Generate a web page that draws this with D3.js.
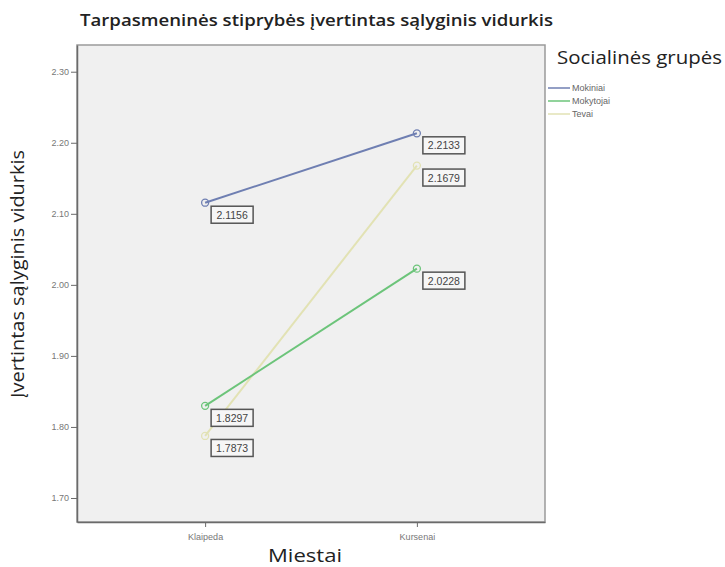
<!DOCTYPE html>
<html>
<head>
<meta charset="utf-8">
<script src="https://cdn.jsdelivr.net/npm/d3@7"></script>
<style>
body{margin:0;background:#fff;}
svg{display:block;}
</style>
</head>
<body>
<svg id="chart" width="725" height="567"></svg>
<script>
const title = "Tarpasmeninės stiprybės įvertintas sąlyginis vidurkis";
const xTitle = "Miestai";
const yTitle = "Įvertintas sąlyginis vidurkis";
const legendTitle = "Socialinės grupės";
const cities = ["Klaipeda", "Kursenai"];
const groups = ["Mokiniai", "Mokytojai", "Tevai"];
const mokiniai = [2.1156, 2.2133];
const mokytojai = [1.8297, 2.0228];
const tevai = [1.7873, 2.1679];
const yTicks = [1.70, 1.80, 1.90, 2.00, 2.10, 2.20, 2.30];
const colors = ["#6f7fb2", "#6cc47a", "#e2e2b4"];

const seriesValues = [mokiniai, mokytojai, tevai];
const series = groups.map((g, i) => ({name: g, color: colors[i],
  values: cities.map((c, j) => ({city: c, value: seriesValues[i][j]}))}));

const svg = d3.select("#chart");
const L = 77, R = 545, T = 45, B = 522;

const x = d3.scalePoint().domain(cities).range([L, R]).padding(0.605);
const y = d3.scaleLinear().domain([1.6662, 2.3376]).range([B, T]);

// plot background
svg.append("rect").attr("x", L).attr("y", T).attr("width", R - L).attr("height", B - T)
  .attr("fill", "#f0f0f0").attr("stroke", "#9a9a9a").attr("stroke-width", 1.5);

// axes
const yAxis = d3.axisLeft(y).tickValues(yTicks).tickFormat(d3.format(".2f")).tickSize(6).tickSizeOuter(0);
const gy = svg.append("g").attr("transform", `translate(${L},0)`).call(yAxis);
gy.select(".domain").attr("stroke", "#6a6a6a").attr("stroke-width", 1.5);
gy.selectAll(".tick line").attr("stroke", "#6a6a6a");
gy.selectAll(".tick text").attr("fill", "#777").attr("font-family", "Arial, 'Liberation Sans', sans-serif").attr("font-size", 9).attr("x", -8);

const xAxis = d3.axisBottom(x).tickSize(5).tickSizeOuter(0);
const gx = svg.append("g").attr("transform", `translate(0,${B})`).call(xAxis);
gx.select(".domain").attr("stroke", "#6a6a6a").attr("stroke-width", 1.5);
gx.selectAll(".tick line").attr("stroke", "#6a6a6a");
gx.selectAll(".tick text").attr("fill", "#777").attr("font-family", "Arial, 'Liberation Sans', sans-serif").attr("font-size", 9).attr("dy", "1.1em");

// lines
const line = d3.line().x(d => x(d.city)).y(d => y(d.value));
series.slice().reverse().forEach(s => {
  svg.append("path").datum(s.values).attr("d", line).attr("fill", "none")
    .attr("stroke", s.color).attr("stroke-width", 2);
});
series.forEach(s => {
  svg.selectAll(null).data(s.values).enter().append("circle")
    .attr("cx", d => x(d.city)).attr("cy", d => y(d.value)).attr("r", 3.5)
    .attr("fill", "none").attr("stroke", s.color).attr("stroke-width", 1.3);
});

// data labels
series.forEach(s => {
  const g = svg.selectAll(null).data(s.values).enter().append("g")
    .attr("transform", d => `translate(${x(d.city) + 6},${y(d.value) + 3.5})`);
  g.append("rect").attr("width", 42).attr("height", 17)
    .attr("fill", "#f6f6f6").attr("stroke", "#555").attr("stroke-width", 1.5);
  g.append("text").attr("x", 21).attr("y", 12.5).attr("text-anchor", "middle")
    .attr("font-family", "Arial, 'Liberation Sans', sans-serif").attr("font-size", 10.5)
    .attr("fill", "#444").text(d => d.value.toFixed(4));
});

// titles
svg.append("text").attr("x", 80).attr("y", 26).attr("font-family", "'Open Sans', sans-serif")
  .attr("font-weight", 600).attr("font-size", 16.5).attr("fill", "#222")
  .attr("textLength", 473).attr("lengthAdjust", "spacingAndGlyphs").text(title);

svg.append("text").attr("x", 268).attr("y", 562)
  .attr("font-family", "'Open Sans', sans-serif").attr("font-size", 19).attr("fill", "#222")
  .attr("textLength", 74).attr("lengthAdjust", "spacingAndGlyphs").text(xTitle);

svg.append("text").attr("transform", "translate(24,398) rotate(-90)")
  .attr("font-family", "'Open Sans', sans-serif").attr("font-size", 18).attr("fill", "#222")
  .attr("textLength", 248).attr("lengthAdjust", "spacingAndGlyphs").text(yTitle);

// legend
svg.append("text").attr("x", 557).attr("y", 64).attr("font-family", "'Open Sans', sans-serif")
  .attr("font-size", 19).attr("fill", "#222")
  .attr("textLength", 165).attr("lengthAdjust", "spacingAndGlyphs").text(legendTitle);
const lg = svg.selectAll(".leg").data(series).enter().append("g")
  .attr("transform", (d, i) => `translate(548,${88 + i * 13})`);
lg.append("line").attr("x1", 0).attr("x2", 22).attr("y1", 0).attr("y2", 0)
  .attr("stroke", d => d.color).attr("stroke-width", 1.5);
lg.append("text").attr("x", 24).attr("y", 3).attr("font-family", "Arial, 'Liberation Sans', sans-serif")
  .attr("font-size", 9).attr("fill", "#666").text(d => d.name);
</script>
</body>
</html>
